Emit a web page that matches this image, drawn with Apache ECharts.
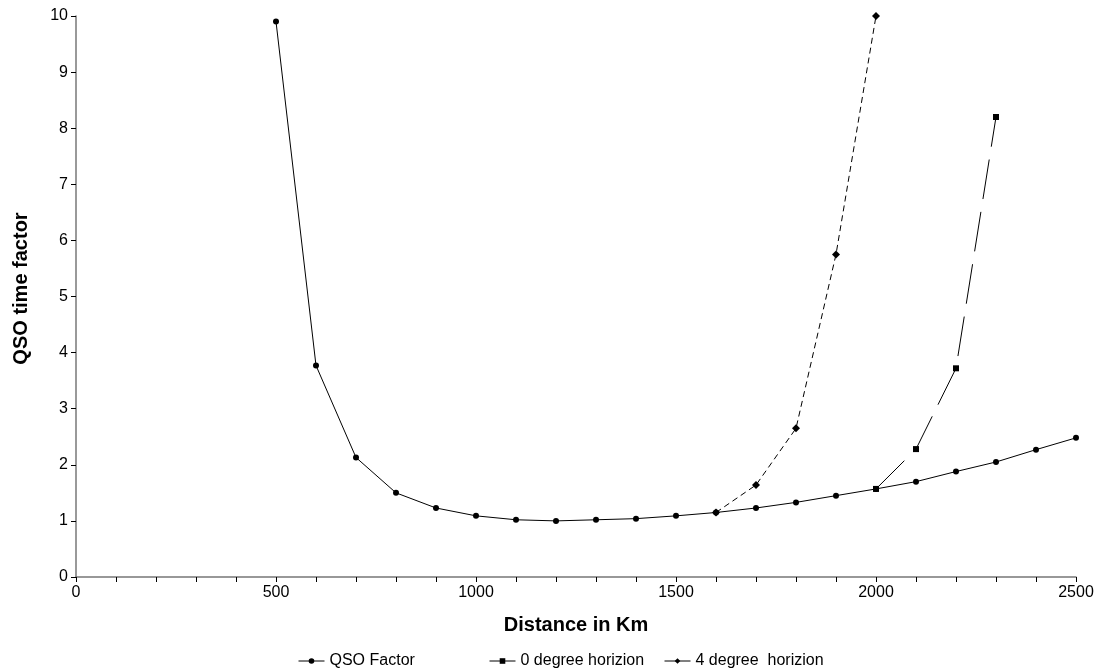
<!DOCTYPE html>
<html>
<head>
<meta charset="utf-8">
<script src="https://cdn.jsdelivr.net/npm/echarts@6/dist/echarts.min.js"></script>
<style>html,body{margin:0;padding:0;background:#fff}#c{width:1098px;height:672px}</style>
</head>
<body>
<div id="c"></div>
<script>
const distances = [500,600,700,800,900,1000,1100,1200,1300,1400,1500,1600,1700,1800,1900,2000,2100,2200,2300,2400,2500];
const qsoFactor = [9.9,3.77,2.13,1.5,1.23,1.09,1.02,1.0,1.02,1.04,1.09,1.15,1.23,1.33,1.45,1.57,1.70,1.88,2.05,2.27,2.48];
const horizon0X = [2000,2100,2200,2300];
const horizon0Y = [1.57,2.28,3.72,8.2];
const horizon4X = [1600,1700,1800,1900,2000];
const horizon4Y = [1.15,1.64,2.65,5.75,10.0];
const seriesNames = ['QSO Factor','0 degree horizion','4 degree  horizion'];
const xTitle = 'Distance in Km';
const yTitle = 'QSO time factor';

const pair = (xs, ys) => xs.map((x, i) => [x, ys[i]]);
const font = 'Liberation Sans, Arial, sans-serif';
const chart = echarts.init(document.getElementById('c'));
const legendBase = {
  orient: 'horizontal', bottom: 3, padding: 0, itemWidth: 26, itemHeight: 7, itemGap: 6,
  lineStyle: {type: 'solid', width: 1, color: '#000'},
  textStyle: {fontFamily: font, fontSize: 16, color: '#000'}
};
chart.setOption({
  animation: false,
  backgroundColor: '#fff',
  grid: {left: 76, right: 22, top: 16, bottom: 95, containLabel: false},
  legend: [
    Object.assign({}, legendBase, {left: 298, data: [seriesNames[0]]}),
    Object.assign({}, legendBase, {left: 489, data: [seriesNames[1]]}),
    Object.assign({}, legendBase, {left: 664, data: [seriesNames[2]]})
  ],
  xAxis: {
    type: 'value', min: 0, max: 2500, interval: 100,
    name: xTitle, nameLocation: 'middle', nameGap: 38,
    nameTextStyle: {fontFamily: font, fontSize: 20, fontWeight: 'bold', color: '#000'},
    axisLine: {lineStyle: {color: '#777', width: 1.5}},
    axisTick: {show: true, length: 5, inside: false, lineStyle: {color: '#000'}},
    axisLabel: {fontFamily: font, fontSize: 16, color: '#000', margin: 8,
      formatter: v => (v % 500 === 0 ? String(v) : '')},
    splitLine: {show: false}
  },
  yAxis: {
    type: 'value', min: 0, max: 10, interval: 1,
    name: yTitle, nameLocation: 'middle', nameGap: 45, nameRotate: 90,
    nameTextStyle: {fontFamily: font, fontSize: 20, fontWeight: 'bold', color: '#000', padding: [0, 0, 0, 16]},
    axisLine: {show: true, lineStyle: {color: '#777', width: 1.5}},
    axisTick: {show: true, length: 5, lineStyle: {color: '#000'}},
    axisLabel: {fontFamily: font, fontSize: 16, color: '#000', margin: 8},
    splitLine: {show: false}
  },
  series: [
    {name: seriesNames[0], type: 'line', data: pair(distances, qsoFactor),
     symbol: 'circle', symbolSize: 6, itemStyle: {color: '#000'},
     lineStyle: {color: '#000', width: 1, type: 'solid'}, z: 3},
    {name: seriesNames[1], type: 'line', data: pair(horizon0X, horizon0Y),
     symbol: 'rect', symbolSize: 6, itemStyle: {color: '#000'},
     lineStyle: {color: '#000', width: 1, type: [40, 13]}, z: 2},
    {name: seriesNames[2], type: 'line', data: pair(horizon4X, horizon4Y),
     symbol: 'diamond', symbolSize: 8, itemStyle: {color: '#000'},
     lineStyle: {color: '#000', width: 1, type: [6, 4]}, z: 2}
  ]
});
</script>
</body>
</html>
